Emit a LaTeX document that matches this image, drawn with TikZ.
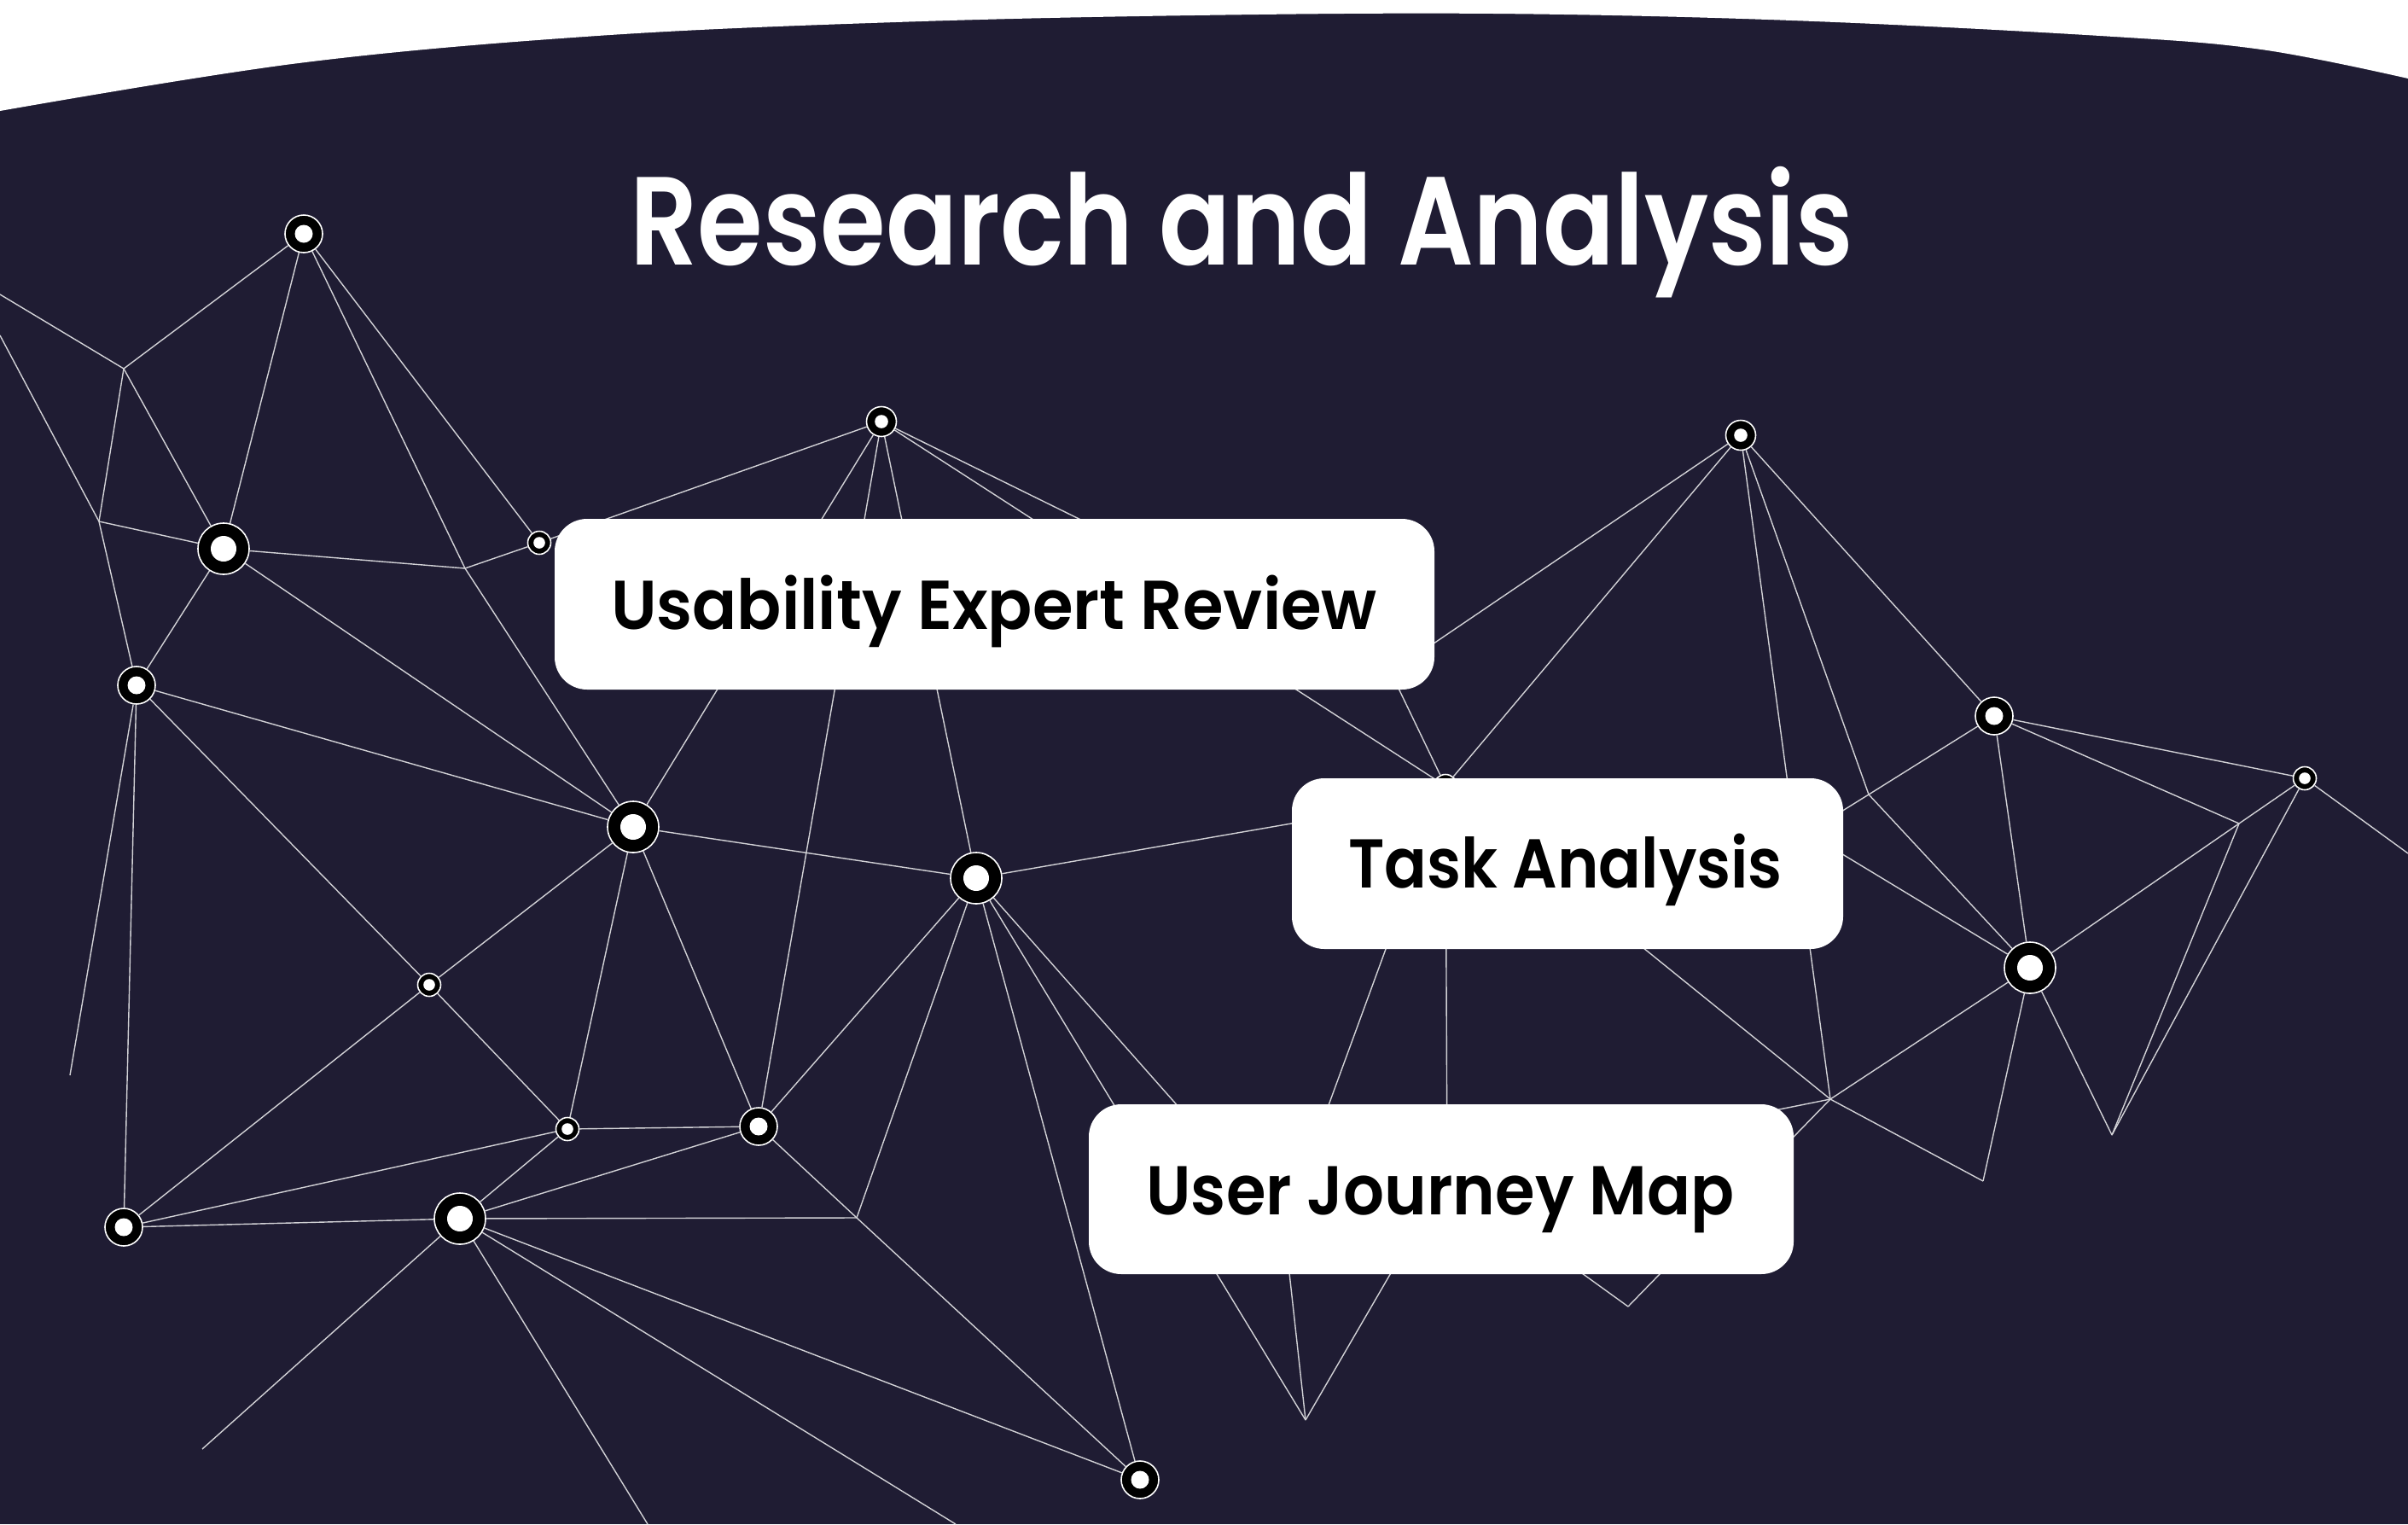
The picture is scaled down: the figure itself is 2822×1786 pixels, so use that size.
\documentclass[tikz,border=0pt]{standalone}
\usepackage{fontspec}
\usepackage{graphicx}
\newfontfamily\titlefont{Poppins SemiBold}
\newfontfamily\boxfont{Poppins SemiBold}
\definecolor{bg}{HTML}{1F1C33}
\colorlet{netline}{white!80!bg}
\newcommand\fitto[2]{\sbox0{#2}\pgfmathsetmacro\fitfac{#1/\the\wd0}\scalebox{\fitfac}[1]{\usebox0}}
\tikzset{
  net/.style={draw=netline, line width=1.4pt},
  dotL/.style={circle, fill=black, draw=white, line width=1.6pt, inner sep=0pt, minimum size=60pt,
    path picture={\fill[white] (path picture bounding box.center) circle (15pt);}},
  dotM/.style={circle, fill=black, draw=white, line width=1.6pt, inner sep=0pt, minimum size=44pt,
    path picture={\fill[white] (path picture bounding box.center) circle (10.5pt);}},
  dotS/.style={circle, fill=black, draw=white, line width=1.6pt, inner sep=0pt, minimum size=35pt,
    path picture={\fill[white] (path picture bounding box.center) circle (7.8pt);}},
  dotXS/.style={circle, fill=black, draw=white, line width=1.6pt, inner sep=0pt, minimum size=27pt,
    path picture={\fill[white] (path picture bounding box.center) circle (6.8pt);}},
  card/.style={fill=white, rounded corners=38pt, inner sep=0pt},
  cardtext/.style={anchor=base, inner sep=0pt, text=black, font=\boxfont\fontsize{81}{84}\selectfont},
}
\begin{document}
\begin{tikzpicture}[x=1pt,y=-1pt]
\useasboundingbox (0,0) rectangle (2822,1786);
\fill[bg] (0,0) rectangle (2822,1786);
\fill[white] (0,0) -- plot[smooth, tension=0.6] coordinates {(0,130) (350,74) (700,42) (1050,26) (1400,18) (1750,16) (2100,24) (2461,42) (2650,58) (2822,92)} -- (2822,0) -- cycle;

\node[anchor=base, inner sep=0pt, text=white, font=\titlefont\fontsize{147}{150}\selectfont] (title) at (1455,310) {\fitto{1434}{Research and Analysis}};

% free points
\coordinate (e1) at (2822,1000);
\coordinate (e2) at (0,345);
\coordinate (e3) at (0,393);
\coordinate (e4) at (1120,1786);
\coordinate (j1) at (145,432);
\coordinate (j2) at (116,611);
\coordinate (j3) at (545,666);
\coordinate (j4) at (82,1260);
\coordinate (j5) at (1004,1427);
\coordinate (j6) at (237,1698);
\coordinate (j7) at (759,1786);
\coordinate (j8) at (1530,1664);
\coordinate (j9) at (1908,1531);
\coordinate (j10) at (2145,1288);
\coordinate (j11) at (2324,1384);
\coordinate (j12) at (2475,1330);
\coordinate (j13) at (2624,965);
\coordinate (j14) at (2190,931);
\coordinate (j16) at (1630,788);
\coordinate (j17) at (1915,1102);
\coordinate (j18) at (1696,1378);
\coordinate (j19) at (1505,1437);
\coordinate (h1) at (1600,950);
\coordinate (h2) at (2080,953);

% dots
\node[dotM] (n1) at (356,274) {};
\node[dotL] (n2) at (262,643) {};
\node[dotM] (n3) at (160,803) {};
\node[dotXS] (n4) at (632,636) {};
\node[dotS] (n5) at (1033,494) {};
\node[dotL] (n6) at (742,969) {};
\node[dotL] (n7) at (1144,1029) {};
\node[dotXS] (n8) at (503,1154) {};
\node[dotXS] (n9) at (665,1323) {};
\node[dotM] (n10) at (889,1320) {};
\node[dotM] (n11) at (145,1438) {};
\node[dotL] (n12) at (539,1428) {};
\node[dotM] (n13) at (1336,1734) {};
\node[dotS] (n14) at (2040,510) {};
\node[dotM] (n15) at (2337,839) {};
\node[dotXS] (n16) at (2701,912) {};
\node[dotL] (n17) at (2379,1134) {};
\node[dotXS] (n18) at (1694,921) {};

% connectors
\foreach \a/\b in {e2/j1, e3/j2, j1/n1, j1/j2, j1/n2, j2/n2, j2/n3, n1/n2, n1/j3, n1/n4,
  n2/j3, n2/n3, n2/n6, j3/n4, j3/n6, n4/n5, n3/j4, n3/n11, n3/n8, n3/n6,
  n5/n6, n5/n10, n5/n7, n5/n18, n5/j16, j16/n18,
  n6/n7, n6/n8, n6/n9, n6/n10,
  n7/n10, n7/j5, n7/n13, n7/j8, n7/j19, n7/h1,
  n8/n11, n8/n9, n9/n10, n9/n11, n9/n12, n10/n12, n10/j5, n11/n12,
  n12/j5, n12/j6, n12/j7, n12/e4, n12/n13, j5/n13,
  n14/j16, n14/n18, n14/j10, n14/j14, n14/n15,
  n15/j14, n15/n17, n15/j13, n15/n16,
  n16/j13, n16/j12, n16/e1, j13/n17, j13/j12,
  n17/j14, n17/h2, n17/j10, n17/j11, n17/j12,
  j14/j17, j17/j10, j10/j11, j10/j18, j10/j9,
  j18/j9, j18/j8, n18/j18, j19/j8, n18/j19}
  \draw[net] (\a) -- (\b);

% cards
\node[card, minimum width=1031pt, minimum height=200pt] (b1) at (1165.5,708) {};
\node[card, minimum width=646pt, minimum height=200pt] (b2) at (1837,1012) {};
\node[card, minimum width=826pt, minimum height=199pt] (b3) at (1689,1393.5) {};
\node[cardtext] (t1) at (1165,737) {\fitto{898}{Usability Expert Review}};
\node[cardtext] (t2) at (1834.5,1040) {\fitto{509}{Task Analysis}};
\node[cardtext] (t3) at (1688,1423) {\fitto{689}{User Journey Map}};
\end{tikzpicture}
\end{document}
